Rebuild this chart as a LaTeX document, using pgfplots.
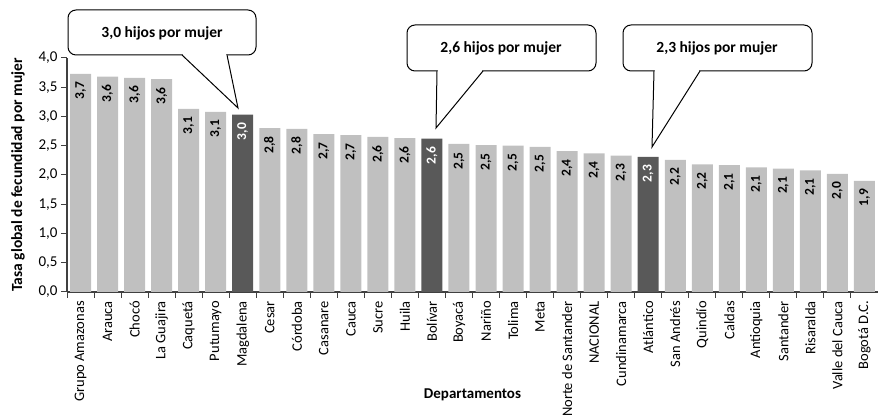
\documentclass[border=0pt]{standalone}
\usepackage{fontspec}
\setmainfont{Carlito}
\usepackage{pgfplots}
\usepackage{pgfplotstable}
\pgfplotsset{compat=1.18}

\definecolor{barlight}{HTML}{C0C0C0}
\definecolor{bardark}{HTML}{595959}
\definecolor{axisgray}{HTML}{404040}

% tasa global de fecundidad por departamento
\pgfplotstableread{
x  y    lab
0  3.73 3,7
1  3.68 3,6
2  3.66 3,6
3  3.64 3,6
4  3.13 3,1
5  3.08 3,1
7  2.80 2,8
8  2.79 2,8
9  2.70 2,7
10 2.68 2,7
11 2.65 2,6
12 2.63 2,6
14 2.53 2,5
15 2.51 2,5
16 2.50 2,5
17 2.48 2,5
18 2.41 2,4
19 2.37 2,4
20 2.33 2,3
22 2.26 2,2
23 2.18 2,2
24 2.17 2,1
25 2.13 2,1
26 2.11 2,1
27 2.08 2,1
28 2.02 2,0
29 1.90 1,9
}\lightbars

\pgfplotstableread{
x  y    lab
6  3.03 3,0
13 2.62 2,6
21 2.31 2,3
}\darkbars

\begin{document}
\begin{tikzpicture}[x=1pt,y=1pt]
\useasboundingbox (0,0) rectangle (878,420);
\begin{axis}[
  at={(67pt,128pt)}, anchor=south west,
  scale only axis, width=811pt, height=234pt,
  xmin=-0.5, xmax=29.5, ymin=0, ymax=4,
  axis lines*=left,
  axis line style={axisgray, line width=1.2pt},
  tick align=outside,
  major tick length=6pt, minor tick length=6pt,
  tick style={axisgray, line width=1pt},
  major x tick style={draw=none},
  xtick={0,...,29},
  minor xtick={-0.5,0.5,1.5,2.5,3.5,4.5,5.5,6.5,7.5,8.5,9.5,10.5,11.5,12.5,13.5,14.5,15.5,16.5,17.5,18.5,19.5,20.5,21.5,22.5,23.5,24.5,25.5,26.5,27.5,28.5,29.5},
  xticklabels={Grupo Amazonas,Arauca,Chocó,La Guajira,Caquetá,Putumayo,Magdalena,Cesar,Córdoba,Casanare,Cauca,Sucre,Huila,Bolívar,Boyacá,Nariño,Tolima,Meta,Norte de Santander,NACIONAL,Cundinamarca,Atlántico,San Andrés,Quindío,Caldas,Antioquia,Santander,Risaralda,Valle del Cauca,Bogotá D.C.},
  xticklabel style={rotate=90, anchor=east, font=\fontsize{14.5}{15}\selectfont, inner sep=1pt, xshift=-2pt},
  ytick={0,0.5,1,1.5,2,2.5,3,3.5,4},
  yticklabel style={font=\fontsize{15}{15}\selectfont, /pgf/number format/.cd, fixed, fixed zerofill, precision=1, use comma, assume math mode=true},
  ylabel={Tasa global de fecundidad por mujer},
  ylabel style={at={(axis description cs:-0.0604,0.5)}, anchor=center, rotate=0, font=\bfseries\fontsize{15.5}{15.5}\selectfont},
  xlabel={Departamentos},
  xlabel style={at={(axis description cs:0.5,-0.44)}, anchor=center, font=\bfseries\fontsize{15}{15}\selectfont},
  ybar, bar width=21pt, bar shift=0pt,
  point meta=explicit symbolic,
  nodes near coords,
  every node near coord/.append style={rotate=90, anchor=east, inner xsep=8pt, inner ysep=0pt, font=\bfseries\fontsize{13.5}{14}\selectfont},
]
\addplot[fill=barlight, draw=none, nodes near coords style={black}] table[x=x, y=y, meta=lab] {\lightbars};
\addplot[fill=bardark, draw=none, nodes near coords style={white}] table[x=x, y=y, meta=lab] {\darkbars};
\end{axis}

% globos de texto
\tikzset{callout/.style={draw=black, line width=1pt, fill=white, rounded corners=8pt}}
\draw[callout] (68,365) rectangle (256,410);
\fill[white] (183,363) rectangle (226,366.8);
\draw[line width=1pt, fill=white] (182,365) -- (238,312) -- (227,365);
\node[font=\bfseries\fontsize{15.5}{16}\selectfont] at (162,387) {3,0 hijos por mujer};

\draw[callout] (407,349) rectangle (596,395);
\fill[white] (438,347) rectangle (482,350.8);
\draw[line width=1pt, fill=white] (437,349) -- (436,292) -- (483,349);
\node[font=\bfseries\fontsize{15.5}{16}\selectfont] at (501,372) {2,6 hijos por mujer};

\draw[callout] (623,349) rectangle (812,395);
\fill[white] (655,347) rectangle (699,350.8);
\draw[line width=1pt, fill=white] (654,349) -- (652,273) -- (700,349);
\node[font=\bfseries\fontsize{15.5}{16}\selectfont] at (717,372) {2,3 hijos por mujer};
\end{tikzpicture}
\end{document}
